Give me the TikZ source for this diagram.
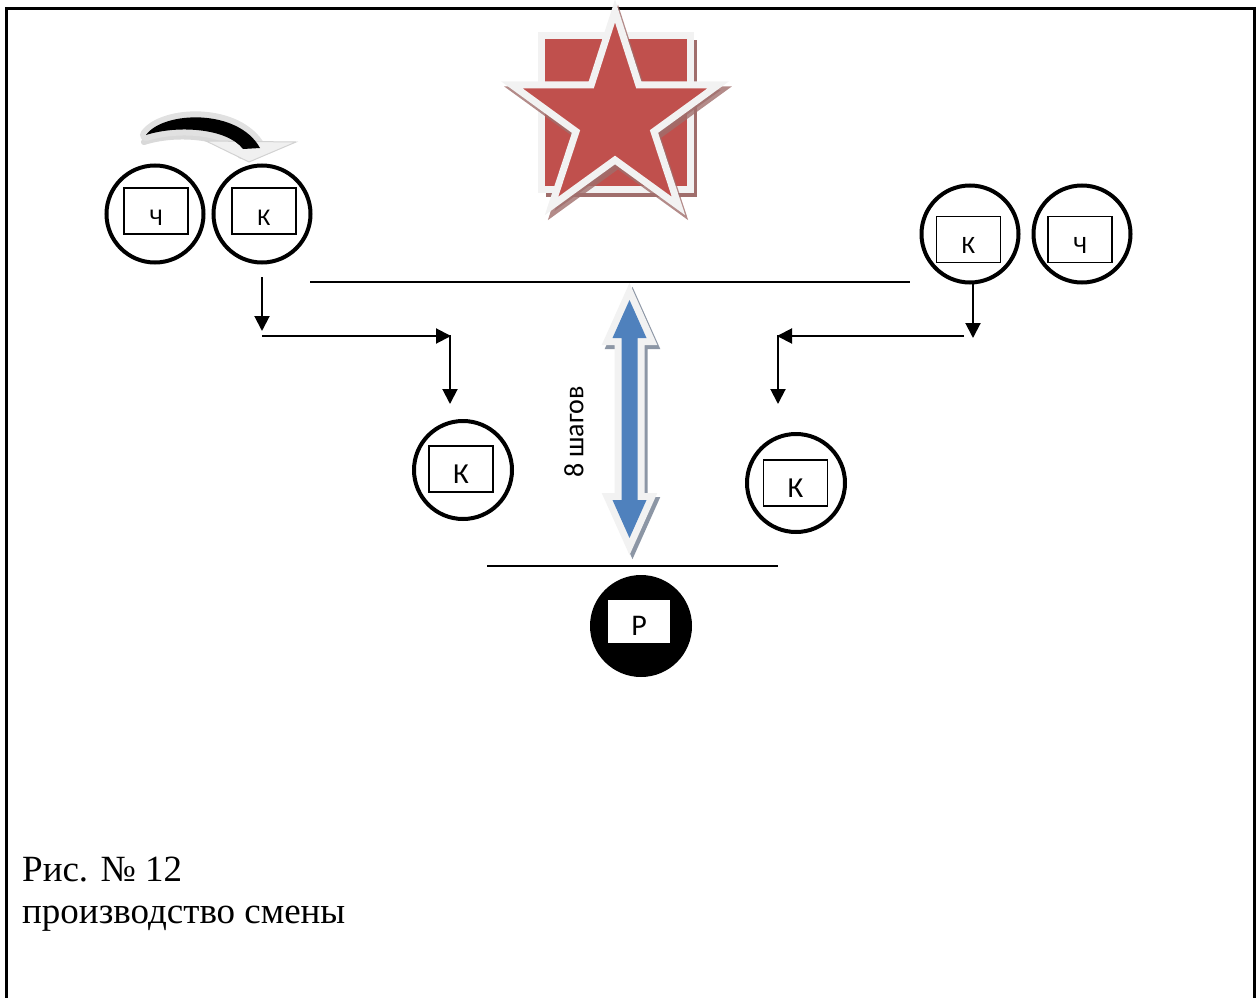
\documentclass[tikz,border=0pt]{standalone}
\usepackage{fontspec}
\setmainfont{Liberation Serif}
\newfontfamily\calfont{Carlito}
\usetikzlibrary{arrows.meta}
\definecolor{starred}{HTML}{C0504D}
\definecolor{arrblue}{HTML}{4F81BD}
\definecolor{halo}{HTML}{F2F2F2}
\definecolor{redshadow}{RGB}{160,110,108}
\definecolor{blueshadow}{RGB}{140,150,165}
\begin{document}
\begin{tikzpicture}[x=1pt,y=-1pt,
  ring/.style={circle, draw, line width=4pt, minimum size=97pt, inner sep=0pt},
  tag/.style={draw, line width=1.5pt, inner sep=0pt, minimum width=64pt, minimum height=46pt, fill=white},
  lettr/.style={font=\calfont\fontsize{#1}{#1}\selectfont, inner sep=0pt},
  conn/.style={line width=2pt, -{Triangle[length=15pt,width=15pt]}},
  plain/.style={line width=2pt},
  frame/.style={line width=3pt}
]
\useasboundingbox (0,0) rectangle (1259,998);
% frame
\draw[frame] (6,998) -- (6,9) -- (1254,9) -- (1254,998);

% ---- star emblem ----
\def\starpath{(615,11) -- (591.2,85) -- (512,85) -- (576,131.5) -- (551.5,206) -- (615,160) -- (678.5,206) -- (654,131.5) -- (718,85) -- (638.8,85) -- cycle}
\fill[redshadow] (545.5,40) rectangle (697,197);
\draw[halo, line width=7pt, fill=starred] (541.5,35.5) rectangle (690,189.5);
\begin{scope}[shift={(3,5)}]
\draw[redshadow, line width=7pt, fill=redshadow, opacity=0.8] \starpath;
\end{scope}
\draw[halo, line width=7pt, fill=starred] \starpath;

% ---- curved arrow (top left) ----
\def\cresc{(146,135) .. controls (163,111) and (238,108) .. (260,148) -- (243,149) .. controls (227,128) and (177,125) .. (146,135) -- cycle}
\begin{scope}[shift={(-2,7)}]
\draw[gray!30, fill=gray!30, line width=6pt, line join=round] \cresc;
\end{scope}
\draw[halo!85!gray, fill=halo, line width=12pt, line join=round] \cresc;
\draw[gray!35, fill=gray!12, line width=1pt] (206,141) -- (296,142) -- (249,162) -- cycle;
\fill[black] \cresc;

% ---- double arrow ----
\def\dblarrow{(629.5,300) -- (646.5,338) -- (637.5,338) -- (637.5,500) -- (646.5,500) -- (629.5,538) -- (612.5,500) -- (621.5,500) -- (621.5,338) -- (612.5,338) -- cycle}
\begin{scope}[shift={(3,4)}]
\draw[blueshadow, line width=14pt, fill=blueshadow] \dblarrow;
\end{scope}
\draw[halo, line width=14pt, fill=halo] \dblarrow;
\fill[arrblue] \dblarrow;
\node[lettr=28, rotate=90] (steps) at (574,432) {8 шагов};

% ---- players ----
\node[ring] (c1) at (155,214) {};
\node[tag, label={[lettr=24, yshift=-7pt]center:Ч}] (t1) at (156,211) {};
\node[ring] (c2) at (262,214) {};
\node[tag, label={[lettr=24, yshift=-7pt]center:К}] (t2) at (264,211) {};

\node[ring] (c3) at (970,234) {};
\node[tag, label={[lettr=25, yshift=-6pt]center:К}] (t3) at (968.5,239.5) {};
\node[ring] (c4) at (1082,234) {};
\node[tag, label={[lettr=25, yshift=-6pt]center:Ч}] (t4) at (1080,239.5) {};

\node[ring, minimum size=98pt] (c5) at (463,470) {};
\node[tag, label={[lettr=29, yshift=-5pt]center:К}] (t5) at (461,469) {};
\node[ring, minimum size=98pt] (c6) at (796,483) {};
\node[tag, label={[lettr=29, yshift=-5pt]center:К}] (t6) at (795.5,483) {};

\node[circle, fill=black, minimum size=102pt, inner sep=0pt] (c7) at (641,626) {};
\node[fill=white, inner sep=0pt, minimum width=62pt, minimum height=43pt, label={[lettr=30, yshift=-4pt]center:Р}] (t7) at (639,621.5) {};

% ---- lines ----
\coordinate (l1a) at (310,282); \coordinate (l1b) at (910,282);
\draw[plain] (l1a) -- (l1b);
\coordinate (l2a) at (487,566); \coordinate (l2b) at (778,566);
\draw[plain] (l2a) -- (l2b);

% ---- connectors left ----
\coordinate (a1) at (262,277); \coordinate (a2) at (262,331);
\coordinate (a3) at (262,336); \coordinate (a4) at (451,336);
\coordinate (a5) at (450,335); \coordinate (a6) at (450,404);
\draw[conn] (a1) -- (a2);
\draw[conn] (a3) -- (a4);
\draw[conn] (a5) -- (a6);
% ---- connectors right ----
\coordinate (b1) at (973,284); \coordinate (b2) at (973,338);
\coordinate (b3) at (964,336); \coordinate (b4) at (777,336);
\coordinate (b5) at (778,335); \coordinate (b6) at (778,404);
\draw[conn] (b1) -- (b2);
\draw[conn] (b3) -- (b4);
\draw[conn] (b5) -- (b6);

% ---- caption ----
\node[anchor=base west, inner sep=0pt, font=\fontsize{37}{37}\selectfont] (cap1) at (22,881) {Рис. № 12};
\node[anchor=base west, inner sep=0pt, font=\fontsize{37}{37}\selectfont] (cap2) at (22,923) {производство смены};
\end{tikzpicture}
\end{document}
